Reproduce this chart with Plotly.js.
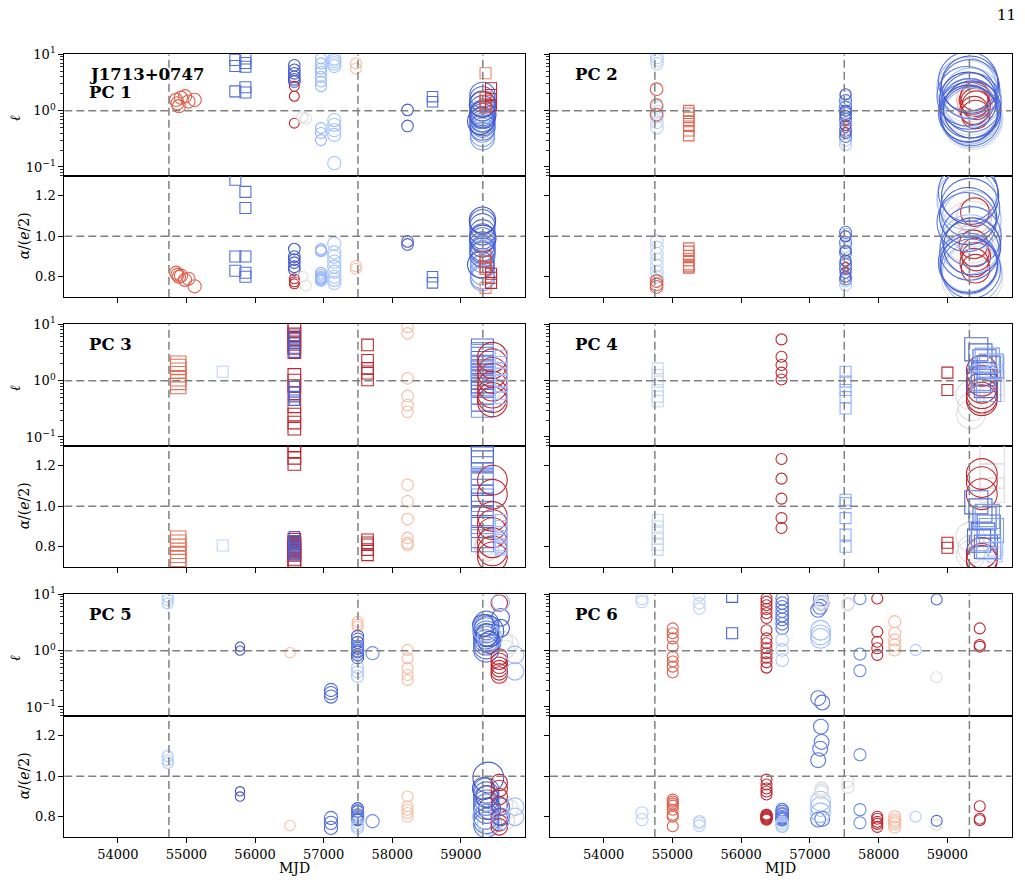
<!DOCTYPE html>
<html>
<head>
<meta charset="utf-8">
<script src="https://cdn.plot.ly/plotly-3.0.1.min.js"></script>
<style>
  html, body { margin: 0; padding: 0; background: #fff; }
  #fig { width: 1025px; height: 883px; }
</style>
</head>
<body>
<div id="fig"></div>
<script>
// Reference epochs (MJD) marked by dashed vertical lines in every panel
const EVENT_MJD = [54745, 57500, 59320];
const MJD_TICKS = [54000, 55000, 56000, 57000, 58000, 59000];
const ELL_TICKS = [0.1, 1, 10];
const ELL_TICKTEXT = ['10<sup>−1</sup>', '10<sup>0</sup>', '10<sup>1</sup>'];
const ALPHA_TICKS = [0.8, 1.0, 1.2];
const ALPHA_TICKTEXT = ['0.8', '1.0', '1.2'];
const PANEL_NAMES = ['PC 1', 'PC 2', 'PC 3', 'PC 4', 'PC 5', 'PC 6'];
const PULSAR = 'J1713+0747';

// Each group: epoch(s) in MJD, colour value c on the coolwarm scale (0..1),
// relative marker weight w, square marker flag, ℓ values and α/(e/2) values.
const PC1 = [
  {mjd: [54850, 54870, 54890, 54920, 54980, 55030, 55120], c: 0.87, w: 1.2, sq: 0,
   ell: [1.55, 1.35, 1.2, 1.7, 1.8, 1.45, 1.55], alpha: [0.82, 0.81, 0.80, 0.805, 0.785, 0.79, 0.753]},
  {mjd: 55713, c: 0.08, w: 1.0, sq: 1, ell: [7.9, 6.2, 2.2], alpha: [1.28, 0.90, 0.83]},
  {mjd: 55860, c: 0.08, w: 1.0, sq: 1, ell: [8.4, 7.0, 6.0, 2.6, 2.1], alpha: [1.22, 1.14, 0.90, 0.82, 0.80]},
  {mjd: 56573, c: 0.03, w: 1.05, sq: 0, ell: [6.4, 5.3, 4.6, 4.0, 3.6, 3.3], alpha: [0.937, 0.90, 0.885, 0.87, 0.85, 0.835]},
  {mjd: 56573, c: 0.97, w: 0.9, sq: 0, ell: [2.7, 1.8, 0.6], alpha: [0.79, 0.775, 0.765]},
  {mjd: [56690, 56740], c: 0.5, w: 1.0, sq: 0, ell: [0.76, 0.72], alpha: [0.80, 0.757]},
  {mjd: 56961, c: 0.27, w: 1.0, sq: 0,
   ell: [8.4, 6.9, 5.6, 4.9, 4.0, 3.3, 2.7, 0.49, 0.40, 0.30],
   alpha: [0.937, 0.93, 0.926, 0.82, 0.81, 0.80, 0.795, 0.79, 0.785, 0.78]},
  {mjd: 57155, c: 0.32, w: 1.2, sq: 0,
   ell: [8.4, 7.6, 6.9, 6.2, 0.68, 0.56, 0.45, 0.37, 0.117],
   alpha: [0.964, 0.92, 0.90, 0.875, 0.85, 0.825, 0.80, 0.785, 0.77]},
  {mjd: 57471, c: 0.64, w: 1.0, sq: 0, ell: [6.9, 5.6], alpha: [0.852, 0.84]},
  {mjd: 58223, c: 0.04, w: 1.05, sq: 0, ell: [1.03, 0.535], alpha: [0.975, 0.96]},
  {mjd: 58587, c: 0.08, w: 0.95, sq: 1, ell: [1.77, 1.44], alpha: [0.80, 0.77]},
  {mjd: 59315, c: 0.2, w: 2.2, sq: 0, ell: [0.95, 0.7, 0.55, 0.45, 0.38, 0.33], alpha: [0.92, 0.88, 0.85, 0.82, 0.80, 0.79]},
  {mjd: 59315, c: 0.08, w: 2.3, sq: 0,
   ell: [1.9, 1.6, 1.3, 1.1, 0.9, 0.8, 0.7, 0.6, 0.5],
   alpha: [1.07, 1.05, 1.02, 1.0, 0.98, 0.96, 0.94, 0.93, 0.91]},
  {mjd: [59315, 59320, 59290], c: 0.02, w: 2.4, sq: 0, ell: [1.3, 0.85, 0.65], alpha: [1.08, 0.99, 0.86]},
  {mjd: 59360, c: 0.8, w: 1.0, sq: 1, ell: [4.6], alpha: [0.745]},
  {mjd: 59360, c: 0.9, w: 1.0, sq: 1, ell: [1.7, 1.5, 1.3, 1.15], alpha: [0.90, 0.875, 0.85, 0.84]},
  {mjd: 59440, c: 0.97, w: 1.0, sq: 1, ell: [2.5, 1.9, 1.25], alpha: [0.815, 0.795, 0.77]}
];

const PC2 = [
  {mjd: 54775, c: 0.38, w: 1.15, sq: 0,
   ell: [8.8, 7.8, 6.8, 1.15, 0.95, 0.78, 0.62, 0.5],
   alpha: [0.975, 0.945, 0.915, 0.885, 0.855, 0.825, 0.80, 0.785]},
  {mjd: 54770, c: 0.88, w: 1.15, sq: 0, ell: [2.4, 1.25, 0.85], alpha: [0.778, 0.762, 0.75]},
  {mjd: 55238, c: 0.86, w: 0.95, sq: 1,
   ell: [1.0, 0.9, 0.76, 0.64, 0.53, 0.44, 0.36], alpha: [0.942, 0.926, 0.905, 0.88, 0.86, 0.85, 0.844]},
  {mjd: 57519, c: 0.35, w: 1.1, sq: 0, ell: [1.8, 1.3, 0.6, 0.3, 0.25], alpha: [1.01, 0.95, 0.87, 0.78, 0.76]},
  {mjd: 57519, c: 0.12, w: 1.1, sq: 0, ell: [1.5, 1.15, 0.9, 0.7, 0.45, 0.35], alpha: [1.02, 0.97, 0.92, 0.86, 0.84, 0.79]},
  {mjd: 57519, c: 0.02, w: 1.0, sq: 0, ell: [1.95, 1.0, 0.8, 0.55, 0.4], alpha: [1.0, 0.93, 0.88, 0.82, 0.80]},
  {mjd: 57519, c: 0.93, w: 0.5, sq: 0, ell: [0.6, 0.45], alpha: [0.86, 0.83]},
  {mjd: [59300, 59340, 59320, 59360], c: 0.5, w: 5.6, sq: 0, ell: [2.2, 1.3, 0.9, 0.72], alpha: [1.2, 1.02, 0.88, 0.80]},
  {mjd: [59390, 59400], c: 0.65, w: 3.2, sq: 0, ell: [1.6, 1.2], alpha: [1.1, 0.98]},
  {mjd: [59400, 59380, 59420, 59390, 59410, 59400], c: 0.96, w: 2.6, sq: 0,
   ell: [1.8, 1.55, 1.25, 1.0, 0.85, 1.4], alpha: [1.12, 0.96, 0.9, 0.87, 0.84, 0.92]},
  {mjd: [59280, 59350, 59330, 59310, 59360], c: 0.3, w: 5.4, sq: 0,
   ell: [2.6, 1.7, 1.1, 0.85, 0.75], alpha: [1.18, 1.08, 0.96, 0.86, 0.82]},
  {mjd: [59300, 59330, 59280, 59350, 59320, 59300, 59340], c: 0.1, w: 5.4, sq: 0,
   ell: [3.3, 2.4, 1.8, 1.4, 1.1, 0.95, 0.8], alpha: [1.22, 1.14, 1.07, 1.0, 0.93, 0.87, 0.84]},
  {mjd: [59330, 59300, 59360, 59310], c: 0.03, w: 5.2, sq: 0, ell: [2.9, 1.5, 1.05, 0.88], alpha: [1.2, 1.1, 0.95, 0.86]}
];

const PC3 = [
  {mjd: 54880, c: 0.84, w: 1.4, sq: 1,
   ell: [2.0, 1.75, 1.5, 1.3, 1.1, 0.95, 0.8], alpha: [0.84, 0.82, 0.80, 0.78, 0.76, 0.74, 0.725]},
  {mjd: 55529, c: 0.4, w: 1.0, sq: 1, ell: [1.44], alpha: [0.806]},
  {mjd: 56573, c: 0.97, w: 1.15, sq: 1,
   ell: [9.6, 8.0, 6.6, 5.5, 4.5, 3.8, 3.2, 1.26, 1.0, 0.8, 0.6, 0.35, 0.25, 0.18, 0.14],
   alpha: [1.3, 1.27, 1.24, 1.21, 0.835, 0.82, 0.81, 0.80, 0.79, 0.78, 0.77, 0.76, 0.74, 0.73, 0.72]},
  {mjd: 56573, c: 0.05, w: 0.95, sq: 1,
   ell: [6.4, 5.5, 4.6, 3.8, 3.2, 0.78, 0.63, 0.52, 0.45],
   alpha: [0.85, 0.83, 0.82, 0.81, 0.80, 0.79, 0.78, 0.77, 0.76]},
  {mjd: 57640, c: 0.97, w: 1.05, sq: 1, ell: [4.3, 2.3, 1.65, 1.35, 1.03], alpha: [0.835, 0.82, 0.81, 0.786, 0.76]},
  {mjd: 58223, c: 0.65, w: 1.05, sq: 0, ell: [9.0, 6.9, 1.1, 0.535, 0.37, 0.28], alpha: [1.107, 1.025, 0.937, 0.844, 0.819, 0.81]},
  {mjd: 59380, c: 0.5, w: 2.2, sq: 0, ell: [1.2, 0.8, 0.6], alpha: [0.82, 0.80, 0.79]},
  {mjd: 59315, c: 0.07, w: 2.0, sq: 1,
   ell: [3.5, 3.0, 2.5, 2.1, 1.8, 1.5, 1.3, 1.1, 0.95, 0.8, 0.6, 0.45],
   alpha: [1.30, 1.27, 1.24, 1.22, 1.16, 1.12, 1.08, 1.05, 1.0, 0.95, 0.90, 0.85]},
  {mjd: 59315, c: 0.18, w: 2.0, sq: 1, ell: [2.8, 1.7, 0.35], alpha: [1.14, 0.92, 0.83]},
  {mjd: 59460, c: 0.97, w: 2.7, sq: 0,
   ell: [2.6, 2.0, 1.4, 1.1, 0.8, 0.6, 0.5, 0.42], alpha: [1.13, 1.06, 0.95, 0.91, 0.87, 0.82, 0.78, 0.75]},
  {mjd: 59590, c: 0.3, w: 1.1, sq: 1,
   ell: [2.7, 2.1, 1.6, 1.3, 1.0, 0.8, 0.6, 0.5], alpha: [0.93, 0.9, 0.87, 0.85, 0.83, 0.81, 0.80, 0.79]}
];

const PC4 = [
  {mjd: 54786, c: 0.42, w: 1.0, sq: 1, ell: [1.65, 1.26, 0.96, 0.68, 0.52, 0.43], alpha: [0.934, 0.90, 0.87, 0.84, 0.81, 0.786]},
  {mjd: 56587, c: 0.97, w: 1.0, sq: 0, ell: [5.4, 2.66, 1.9, 1.39, 1.05], alpha: [1.234, 1.137, 1.038, 0.942, 0.893]},
  {mjd: 57519, c: 0.25, w: 1.0, sq: 1, ell: [1.44, 0.96, 0.68, 0.51, 0.32], alpha: [1.033, 1.016, 0.942, 0.86, 0.80]},
  {mjd: 59000, c: 0.97, w: 1.0, sq: 1, ell: [1.39, 0.68], alpha: [0.82, 0.795]},
  {mjd: [59330, 59360, 59340], c: 0.5, w: 2.6, sq: 0, ell: [0.55, 0.35, 0.25], alpha: [0.85, 0.79, 0.76]},
  {mjd: 59650, c: 0.5, w: 2.2, sq: 1, ell: [1.6, 0.9, 0.7], alpha: [1.27, 1.15, 1.08]},
  {mjd: 59500, c: 0.97, w: 2.8, sq: 0, ell: [1.5, 1.0, 0.75, 0.6, 0.5, 0.45], alpha: [1.16, 1.12, 1.06, 0.77, 0.74, 0.73]},
  {mjd: [59420, 59480, 59540, 59600, 59520, 59460, 59560], c: 0.07, w: 2.1, sq: 1,
   ell: [3.6, 2.8, 2.2, 1.7, 1.3, 1.0, 0.8], alpha: [1.02, 0.98, 0.94, 0.9, 0.86, 0.83, 0.80]},
  {mjd: [59580, 59640, 59520, 59600], c: 0.2, w: 2.2, sq: 1, ell: [2.3, 1.8, 1.1, 0.7], alpha: [0.95, 0.88, 0.84, 0.80]},
  {mjd: [59700, 59690], c: 0.32, w: 1.3, sq: 1, ell: [2.2, 1.4], alpha: [0.79, 0.76]}
];

const PC5 = [
  {mjd: 54728, c: 0.35, w: 1.0, sq: 0, ell: [9.0, 7.9, 6.9], alpha: [1.10, 1.08, 1.066]},
  {mjd: 55781, c: 0.02, w: 0.85, sq: 0, ell: [1.18, 1.0], alpha: [0.926, 0.90]},
  {mjd: 56510, c: 0.63, w: 0.95, sq: 0, ell: [0.92], alpha: [0.756]},
  {mjd: 57107, c: 0.08, w: 1.2, sq: 0, ell: [0.20, 0.176, 0.153], alpha: [0.794, 0.77, 0.745]},
  {mjd: 57495, c: 0.65, w: 1.0, sq: 0, ell: [3.26, 2.9, 2.66], alpha: [null, null, null]},
  {mjd: 57495, c: 0.03, w: 1.1, sq: 0, ell: [1.8, 1.4, 1.1, 0.95, 0.85, 0.75], alpha: [0.84, 0.825, 0.81, 0.80, 0.79, 0.785]},
  {mjd: 57495, c: 0.12, w: 1.1, sq: 0, ell: [1.6, 1.2, 1.0], alpha: [0.83, 0.80, 0.79]},
  {mjd: 57495, c: 0.35, w: 1.1, sq: 0, ell: [0.5, 0.42, 0.35], alpha: [0.77, 0.755, 0.745]},
  {mjd: 57713, c: 0.15, w: 1.2, sq: 0, ell: [0.9], alpha: [0.778]},
  {mjd: 58223, c: 0.65, w: 1.0, sq: 0, ell: [1.03, 0.73, 0.49, 0.37, 0.30], alpha: [0.90, 0.852, 0.835, 0.819, 0.80]},
  {mjd: [59620, 59700, 59650], c: 0.5, w: 1.7, sq: 0, ell: [1.5, 1.3, 1.05], alpha: [0.86, 0.84, 0.78]},
  {mjd: 59370, c: 0.1, w: 2.3, sq: 0,
   ell: [3.0, 2.6, 2.3, 2.0, 1.8, 1.6, 1.4, 1.2, 1.05], alpha: [0.93, 0.91, 0.89, 0.87, 0.85, 0.83, 0.80, 0.78, 0.76]},
  {mjd: 59400, c: 0.03, w: 2.8, sq: 0, ell: [2.2], alpha: [0.994]},
  {mjd: [59330, 59380, 59420], c: 0.03, w: 2.0, sq: 0, ell: [2.8, 1.9, 1.4], alpha: [0.94, 0.90, 0.84]},
  {mjd: [59350, 59420], c: 0.3, w: 2.2, sq: 0, ell: [2.4, 1.7], alpha: [0.80, 0.77]},
  {mjd: 59560, c: 0.97, w: 1.5, sq: 0,
   ell: [7.0, 0.77, 0.65, 0.55, 0.48, 0.42, 0.37], alpha: [0.97, 0.94, 0.90, 0.86, 0.80, 0.77, 0.75]},
  {mjd: 59580, c: 0.05, w: 1.6, sq: 0, ell: [3.9, 2.5], alpha: [0.85, 0.80]},
  {mjd: [59580, 59790, 59790], c: 0.28, w: 1.6, sq: 0, ell: [7.3, 0.84, 0.43], alpha: [0.78, 0.85, 0.80]}
];

const PC6 = [
  {mjd: 54558, c: 0.38, w: 1.1, sq: 0, ell: [8.4, 7.4], alpha: [0.82, 0.786]},
  {mjd: 55005, c: 0.88, w: 1.0, sq: 0,
   ell: [2.48, 2.03, 1.65, 1.18, 0.78, 0.64, 0.52, 0.41], alpha: [0.885, 0.875, 0.865, 0.855, 0.835, 0.81, 0.80, 0.753]},
  {mjd: 55393, c: 0.38, w: 1.05, sq: 0, ell: [9.6, 6.9, 5.6], alpha: [0.778, 0.77, 0.756]},
  {mjd: 55869, c: 0.05, w: 1.0, sq: 1, ell: [9.0, 2.03], alpha: [null, null]},
  {mjd: 56369, c: 0.97, w: 1.0, sq: 0,
   ell: [8.4, 7.4, 6.4, 5.5, 4.6, 3.8, 2.3, 1.65, 1.35, 1.1, 0.9, 0.75, 0.62, 0.5],
   alpha: [0.984, 0.96, 0.94, 0.925, 0.91, 0.81, 0.805, 0.80, 0.795, 0.79, 0.785, 0.80, 0.81, 0.79]},
  {mjd: 56597, c: 0.1, w: 1.15, sq: 0,
   ell: [8.4, 7.0, 6.0, 5.0, 4.2, 3.6, 3.0, 2.5], alpha: [0.835, 0.825, 0.815, 0.81, 0.80, 0.795, 0.79, 0.785]},
  {mjd: 56597, c: 0.35, w: 1.15, sq: 0, ell: [1.55, 1.03, 0.68], alpha: [0.77, 0.76, 0.753]},
  {mjd: [57160, 57170, 57150, 57120, 57120, 57180], c: 0.1, w: 1.35, sq: 0,
   ell: [8.4, 7.0, 6.0, 5.3, 0.143, 0.12], alpha: [1.246, 1.17, 1.137, 1.08, 0.786, 0.79]},
  {mjd: 57155, c: 0.3, w: 1.8, sq: 0, ell: [2.3, 1.9, 1.65], alpha: [0.877, 0.85, 0.82]},
  {mjd: 57170, c: 0.5, w: 1.2, sq: 0, ell: [7.8, 7.2, 6.6], alpha: [0.94, 0.93, 0.92]},
  {mjd: 57553, c: 0.5, w: 1.1, sq: 0, ell: [6.9, 6.5], alpha: [0.975, 0.947]},
  {mjd: 57728, c: 0.15, w: 1.1, sq: 0, ell: [8.4, 0.87, 0.44], alpha: [1.107, 0.835, 0.77]},
  {mjd: 57980, c: 0.97, w: 1.0, sq: 0, ell: [8.4, 2.17, 1.44, 1.1, 0.84], alpha: [0.80, 0.79, 0.775, 0.765, 0.75]},
  {mjd: 58233, c: 0.66, w: 1.1, sq: 0, ell: [3.26, 2.03, 1.55, 1.26, 1.03], alpha: [0.80, 0.785, 0.775, 0.765, 0.75]},
  {mjd: 58538, c: 0.35, w: 1.0, sq: 0, ell: [1.03], alpha: [0.80]},
  {mjd: 58839, c: 0.5, w: 1.0, sq: 0, ell: [0.337], alpha: [0.76]},
  {mjd: 58844, c: 0.07, w: 1.0, sq: 0, ell: [8.1], alpha: [0.78]},
  {mjd: 59470, c: 0.97, w: 1.0, sq: 0, ell: [2.48, 1.26, 1.18], alpha: [0.852, 0.79, 0.783]}
];

const PANELS = [PC1, PC2, PC3, PC4, PC5, PC6];

// ---- styling ----
const SERIF = 'DejaVu Serif, Liberation Serif, serif';
const W = 1025, H = 883;
const BASE = 11;                 // marker diameter for weight 1
const X_RANGE = [53220, 59935];
const ELL_RANGE = [0.07, 10];
const ALPHA_RANGE = [0.7, 1.3];
const COL_X = [[64.3, 525], [550, 1011.7]];
const ROW_Y = [[54.3, 175.7, 297], [324.3, 445.7, 567], [594.3, 715.7, 837]];

// matplotlib "coolwarm" samples, 33 evenly spaced stops
const COOLWARM = [[59,76,192],[68,90,204],[77,104,215],[87,117,225],[98,130,234],[108,142,241],[119,154,247],[130,165,251],[141,176,254],[152,185,255],[163,194,255],[174,201,253],[184,208,249],[194,213,244],[204,217,238],[213,219,230],[221,221,221],[229,216,209],[236,211,197],[241,204,185],[245,196,173],[247,187,160],[247,177,148],[247,166,135],[244,154,123],[241,141,111],[236,127,99],[229,112,88],[222,96,77],[213,80,66],[203,62,56],[192,40,47],[180,4,38]];
function coolwarm(t) {
  t = Math.max(0, Math.min(1, t));
  const f = t * 32, i = Math.min(31, Math.floor(f)), r = f - i;
  const a = COOLWARM[i], b = COOLWARM[i + 1];
  return 'rgb(' + a.map((v, k) => Math.round(v + (b[k] - v) * r)).join(',') + ')';
}

const axId = (k) => (k === 1 ? '' : String(k));
const traces = [];
const guideTraces = [];
const layout = {
  width: W, height: H,
  margin: {l: 0, r: 0, t: 0, b: 0},
  paper_bgcolor: '#fff', plot_bgcolor: '#fff',
  showlegend: false,
  font: {family: SERIF, size: 13, color: '#000'},
  annotations: []
};

const ellMinor = [];
[0.01, 0.1, 1].forEach(d => { for (let m = 2; m <= 9; m++) ellMinor.push(m * d); });

const GUIDE = {color: '#808080', width: 1.5, dash: '8px,4px'};

PANELS.forEach((groups, p) => {
  const row = Math.floor(p / 2), col = p % 2;
  const [x0, x1] = COL_X[col];
  const [yTop, yMid, yBot] = ROW_Y[row];
  const xdom = [x0 / W, x1 / W];
  const kEll = 2 * p + 1, kAlpha = 2 * p + 2;
  const ellDom = [1 - yMid / H, 1 - yTop / H];
  const alphaDom = [1 - yBot / H, 1 - yMid / H];

  const baseX = {
    range: X_RANGE, autorange: false, domain: xdom,
    showline: true, mirror: true, linecolor: '#000', linewidth: 1,
    showgrid: false, zeroline: false,
    tickvals: MJD_TICKS, ticktext: MJD_TICKS.map(String),
    tickfont: {family: SERIF, size: 13, color: '#000'}
  };
  layout['xaxis' + axId(kEll)] = Object.assign({}, baseX, {
    anchor: 'y' + axId(kEll), ticks: '', showticklabels: false
  });
  layout['xaxis' + axId(kAlpha)] = Object.assign({}, baseX, {
    anchor: 'y' + axId(kAlpha), ticks: 'outside', ticklen: 5, tickwidth: 1, tickcolor: '#000',
    showticklabels: row === 2
  });

  const baseY = {
    showline: true, mirror: true, linecolor: '#000', linewidth: 1,
    showgrid: false, zeroline: false,
    ticks: 'outside', ticklen: 5, tickwidth: 1, tickcolor: '#000',
    showticklabels: col === 0,
    tickfont: {family: SERIF, size: 13, color: '#000'}
  };
  layout['yaxis' + axId(kEll)] = Object.assign({}, baseY, {
    anchor: 'x' + axId(kEll), domain: ellDom, type: 'log',
    range: [Math.log10(ELL_RANGE[0]), Math.log10(ELL_RANGE[1])], autorange: false,
    tickvals: ELL_TICKS, ticktext: ELL_TICKTEXT,
    minor: {tickvals: ellMinor, ticks: 'outside', ticklen: 3, tickwidth: 0.8, tickcolor: '#000', showgrid: false}
  });
  layout['yaxis' + axId(kAlpha)] = Object.assign({}, baseY, {
    anchor: 'x' + axId(kAlpha), domain: alphaDom,
    range: ALPHA_RANGE, autorange: false,
    tickvals: ALPHA_TICKS, ticktext: ALPHA_TICKTEXT
  });

  // data markers
  groups.forEach(g => {
    const n = g.ell.length;
    const xs = Array.isArray(g.mjd) ? g.mjd : new Array(n).fill(g.mjd);
    const colr = coolwarm(g.c);
    const marker = {
      symbol: g.sq ? 'square-open' : 'circle-open',
      size: BASE * g.w, color: colr,
      line: {width: 1.1, color: colr}
    };
    traces.push({type: 'scatter', mode: 'markers', x: xs, y: g.ell,
      xaxis: 'x' + axId(kEll), yaxis: 'y' + axId(kEll), marker, hoverinfo: 'skip', cliponaxis: true});
    traces.push({type: 'scatter', mode: 'markers', x: xs, y: g.alpha,
      xaxis: 'x' + axId(kAlpha), yaxis: 'y' + axId(kAlpha), marker, hoverinfo: 'skip', cliponaxis: true});
  });

  // dashed guides: reference epochs and unity lines
  [[kEll, ELL_RANGE], [kAlpha, ALPHA_RANGE]].forEach(([k, yr]) => {
    EVENT_MJD.forEach(m => {
      guideTraces.push({type: 'scatter', mode: 'lines', x: [m, m], y: yr,
        xaxis: 'x' + axId(k), yaxis: 'y' + axId(k), line: GUIDE, hoverinfo: 'skip'});
    });
    guideTraces.push({type: 'scatter', mode: 'lines', x: X_RANGE, y: [1, 1],
      xaxis: 'x' + axId(k), yaxis: 'y' + axId(k), line: GUIDE, hoverinfo: 'skip'});
  });

  // panel label
  const lx = (x0 + 23) / W;
  if (p === 0) {
    layout.annotations.push({xref: 'paper', yref: 'paper', x: lx, y: 1 - (yTop + 20) / H,
      xanchor: 'left', yanchor: 'middle', showarrow: false,
      text: '<b>' + PULSAR + '</b>', font: {family: SERIF, size: 16.5, color: '#000'}});
    layout.annotations.push({xref: 'paper', yref: 'paper', x: lx, y: 1 - (yTop + 38.4) / H,
      xanchor: 'left', yanchor: 'middle', showarrow: false,
      text: '<b>' + PANEL_NAMES[p] + '</b>', font: {family: SERIF, size: 16.5, color: '#000'}});
  } else {
    layout.annotations.push({xref: 'paper', yref: 'paper', x: lx, y: 1 - (yTop + 20) / H,
      xanchor: 'left', yanchor: 'middle', showarrow: false,
      text: '<b>' + PANEL_NAMES[p] + '</b>', font: {family: SERIF, size: 16.5, color: '#000'}});
  }

  // axis titles
  if (col === 0) {
    layout.annotations.push({xref: 'paper', yref: 'paper', x: 15 / W, y: 1 - ((yTop + yMid) / 2 + 3) / H,
      xanchor: 'center', yanchor: 'middle', showarrow: false, textangle: -90,
      text: '<i>ℓ</i>', font: {family: SERIF, size: 14, color: '#000'}});
    layout.annotations.push({xref: 'paper', yref: 'paper', x: 24 / W, y: 1 - ((yMid + yBot) / 2) / H,
      xanchor: 'center', yanchor: 'middle', showarrow: false, textangle: -90,
      text: '<i>α</i>/(<i>e</i>/2)', font: {family: SERIF, size: 14, color: '#000'}});
  }
  if (row === 2) {
    layout.annotations.push({xref: 'paper', yref: 'paper', x: ((x0 + x1) / 2) / W, y: 1 - 868 / H,
      xanchor: 'center', yanchor: 'middle', showarrow: false,
      text: 'MJD', font: {family: SERIF, size: 14, color: '#000'}});
  }
});

// page number
layout.annotations.push({xref: 'paper', yref: 'paper', x: 1018 / W, y: 1 - 15 / H,
  xanchor: 'right', yanchor: 'middle', showarrow: false,
  text: '11', font: {family: SERIF, size: 15, color: '#000'}});

Plotly.newPlot('fig', traces.concat(guideTraces), layout, {displayModeBar: false, staticPlot: true});
</script>
</body>
</html>
